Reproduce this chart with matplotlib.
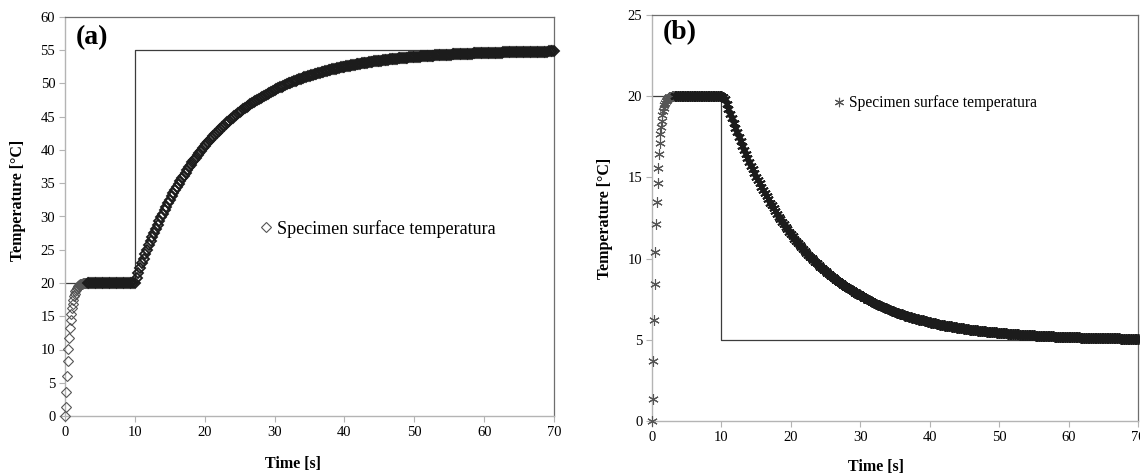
import numpy as np
import matplotlib
matplotlib.use("Agg")
import matplotlib.pyplot as plt

plt.rcParams["font.family"] = ["Liberation Serif", "DejaVu Serif"]

# ---------------------------------------------------------------------------
# Data
# ---------------------------------------------------------------------------
# Set-point of the chamber (step at t = 10 s)
setpoint_time = [0, 10, 10, 70]
setpoint_a = [20, 20, 55, 55]
setpoint_b = [20, 20, 5, 5]

# Warm-up from 0 to 20 °C, sampled every 0.1 s (0 .. 3 s)
rise_a = [0.0, 1.3, 3.6, 6.0, 8.2, 10.1, 11.8, 13.2, 14.4, 15.4, 16.2,
          16.9, 17.5, 18.0, 18.4, 18.75, 19.0, 19.25, 19.4, 19.55, 19.65,
          19.75, 19.8, 19.85, 19.9, 19.92, 19.94, 19.96, 19.97, 19.98, 19.99]
rise_b = [0.0, 1.34, 3.72, 6.19, 8.46, 10.41, 12.13, 13.5, 14.67, 15.6, 16.43,
          17.1, 17.65, 18.1, 18.5, 18.82, 19.08, 19.3, 19.46, 19.6, 19.7,
          19.78, 19.84, 19.88, 19.92, 19.94, 19.96, 19.97, 19.98, 19.99, 20.0]

# Holding at 20 °C, sampled every 0.25 s (3.25 .. 9.75 s)
hold_a = [20.0] * 27
hold_b = [20.0] * 27

# Response after the step, sampled every 0.25 s (10 .. 70 s), one row per second
step_a = [
    20.00, 20.77, 21.52, 22.25, 22.96, 23.67, 24.35, 25.02,
    25.68, 26.32, 26.95, 27.56, 28.16, 28.75, 29.32, 29.88,
    30.43, 30.97, 31.50, 32.01, 32.51, 33.01, 33.49, 33.96,
    34.42, 34.87, 35.31, 35.74, 36.16, 36.57, 36.98, 37.37,
    37.76, 38.13, 38.50, 38.86, 39.22, 39.56, 39.90, 40.23,
    40.55, 40.87, 41.18, 41.48, 41.78, 42.07, 42.35, 42.63,
    42.90, 43.16, 43.42, 43.67, 43.92, 44.17, 44.40, 44.63,
    44.86, 45.08, 45.30, 45.51, 45.72, 45.92, 46.12, 46.32,
    46.51, 46.69, 46.87, 47.05, 47.22, 47.39, 47.56, 47.72,
    47.88, 48.04, 48.19, 48.34, 48.49, 48.63, 48.77, 48.90,
    49.04, 49.17, 49.30, 49.42, 49.54, 49.66, 49.78, 49.89,
    50.01, 50.11, 50.22, 50.33, 50.43, 50.53, 50.63, 50.72,
    50.82, 50.91, 51.00, 51.08, 51.17, 51.25, 51.34, 51.42,
    51.49, 51.57, 51.65, 51.72, 51.79, 51.86, 51.93, 52.00,
    52.06, 52.13, 52.19, 52.25, 52.31, 52.37, 52.43, 52.48,
    52.54, 52.59, 52.65, 52.70, 52.75, 52.80, 52.85, 52.89,
    52.94, 52.98, 53.03, 53.07, 53.11, 53.15, 53.19, 53.23,
    53.27, 53.31, 53.35, 53.38, 53.42, 53.45, 53.49, 53.52,
    53.55, 53.58, 53.62, 53.65, 53.68, 53.70, 53.73, 53.76,
    53.79, 53.81, 53.84, 53.87, 53.89, 53.91, 53.94, 53.96,
    53.98, 54.01, 54.03, 54.05, 54.07, 54.09, 54.11, 54.13,
    54.15, 54.17, 54.19, 54.20, 54.22, 54.24, 54.25, 54.27,
    54.29, 54.30, 54.32, 54.33, 54.35, 54.36, 54.38, 54.39,
    54.40, 54.42, 54.43, 54.44, 54.45, 54.47, 54.48, 54.49,
    54.50, 54.51, 54.52, 54.53, 54.54, 54.55, 54.56, 54.57,
    54.58, 54.59, 54.60, 54.61, 54.62, 54.62, 54.63, 54.64,
    54.65, 54.66, 54.66, 54.67, 54.68, 54.69, 54.69, 54.70,
    54.71, 54.71, 54.72, 54.72, 54.73, 54.74, 54.74, 54.75,
    54.75, 54.76, 54.76, 54.77, 54.77, 54.78, 54.78, 54.79,
    54.79, 54.80, 54.80, 54.81, 54.81, 54.82, 54.82, 54.82,
    54.83,
]
step_b = [
    20.00, 19.96, 19.84, 19.55, 19.24, 18.93, 18.63, 18.34,
    18.05, 17.77, 17.50, 17.23, 16.96, 16.71, 16.46, 16.21,
    15.97, 15.73, 15.50, 15.28, 15.05, 14.84, 14.63, 14.42,
    14.22, 14.02, 13.83, 13.64, 13.45, 13.27, 13.09, 12.92,
    12.75, 12.58, 12.42, 12.26, 12.10, 11.95, 11.80, 11.65,
    11.51, 11.37, 11.23, 11.10, 10.97, 10.84, 10.71, 10.59,
    10.47, 10.35, 10.24, 10.12, 10.01, 9.91, 9.80, 9.70,
    9.60, 9.50, 9.40, 9.31, 9.21, 9.12, 9.03, 8.95,
    8.86, 8.78, 8.70, 8.62, 8.54, 8.47, 8.39, 8.32,
    8.25, 8.18, 8.11, 8.04, 7.98, 7.91, 7.85, 7.79,
    7.73, 7.67, 7.60, 7.55, 7.49, 7.43, 7.37, 7.32,
    7.27, 7.22, 7.16, 7.12, 7.07, 7.02, 6.97, 6.93,
    6.88, 6.84, 6.80, 6.76, 6.72, 6.68, 6.64, 6.60,
    6.57, 6.53, 6.49, 6.46, 6.43, 6.39, 6.36, 6.33,
    6.30, 6.27, 6.24, 6.21, 6.19, 6.16, 6.13, 6.11,
    6.08, 6.06, 6.03, 6.01, 5.99, 5.96, 5.94, 5.92,
    5.90, 5.88, 5.86, 5.84, 5.82, 5.80, 5.78, 5.76,
    5.75, 5.73, 5.71, 5.70, 5.68, 5.66, 5.65, 5.63,
    5.62, 5.61, 5.59, 5.58, 5.57, 5.55, 5.54, 5.53,
    5.52, 5.50, 5.49, 5.48, 5.47, 5.46, 5.45, 5.44,
    5.43, 5.42, 5.41, 5.40, 5.39, 5.38, 5.37, 5.36,
    5.36, 5.35, 5.34, 5.33, 5.32, 5.32, 5.31, 5.30,
    5.30, 5.29, 5.28, 5.28, 5.27, 5.26, 5.26, 5.25,
    5.25, 5.24, 5.23, 5.23, 5.22, 5.22, 5.21, 5.21,
    5.20, 5.20, 5.20, 5.19, 5.19, 5.18, 5.18, 5.17,
    5.17, 5.17, 5.16, 5.16, 5.15, 5.15, 5.15, 5.14,
    5.14, 5.14, 5.13, 5.13, 5.13, 5.13, 5.12, 5.12,
    5.12, 5.11, 5.11, 5.11, 5.11, 5.10, 5.10, 5.10,
    5.10, 5.10, 5.09, 5.09, 5.09, 5.09, 5.08, 5.08,
    5.08, 5.08, 5.08, 5.08, 5.07, 5.07, 5.07, 5.07,
    5.07,
]

x_ticks = [0, 10, 20, 30, 40, 50, 60, 70]
y_ticks_a = [0, 5, 10, 15, 20, 25, 30, 35, 40, 45, 50, 55, 60]
y_ticks_b = [0, 5, 10, 15, 20, 25]

legend_label = "Specimen surface temperatura"


def rise_times(rise):
    return np.arange(len(rise)) * 0.1


def later_times(hold, step):
    t_hold = 3.25 + np.arange(len(hold)) * 0.25
    t_step = 10.0 + np.arange(len(step)) * 0.25
    return np.concatenate([t_hold, t_step]), np.concatenate([hold, step])


# ---------------------------------------------------------------------------
# Figure
# ---------------------------------------------------------------------------
fig = plt.figure(figsize=(11.40, 4.73), dpi=100)
ax_a = fig.add_axes([65 / 1140, 1 - 416 / 473, 489 / 1140, 399 / 473])
ax_b = fig.add_axes([652 / 1140, 1 - 421 / 473, 486 / 1140, 406 / 473])

AX_GREY = "#b4b4b4"
FRAME_GREY = "#6e6e6e"


def style_axes(ax, yticks, ymax):
    ax.set_xlim(0, 70)
    ax.set_ylim(0, ymax)
    ax.set_xticks(x_ticks)
    ax.set_yticks(yticks)
    ax.tick_params(direction="out", length=4, width=0.8, color=AX_GREY,
                   labelsize=10.5, pad=3)
    for side in ("left", "bottom"):
        ax.spines[side].set_color(AX_GREY)
        ax.spines[side].set_linewidth(1.0)
    for side in ("top", "right"):
        ax.spines[side].set_color(FRAME_GREY)
        ax.spines[side].set_linewidth(0.9)
    ax.set_xlabel("Time [s]", fontsize=11.5, fontweight="bold")
    ax.set_ylabel("Temperature [°C]", fontsize=11.5, fontweight="bold")


def draw_series(ax, rise, hold, step, marker, ms):
    # sparse start: thin grey outlines; dense part: overlapping dark outlines
    first, = ax.plot(rise_times(rise), rise, ls="none", marker=marker, ms=ms,
                     mfc="none", mec="#555555", mew=0.8, clip_on=False,
                     zorder=3, label=legend_label)
    t_late, y_late = later_times(hold, step)
    ax.plot(t_late, y_late, ls="none", marker=marker, ms=ms, mfc="none",
            mec="#1c1c1c", mew=1.35, clip_on=False, zorder=3)
    return first


# ----- panel (a): heating step --------------------------------------------
ax_a.plot(setpoint_time, setpoint_a, color="#3c3c3c", lw=0.9, zorder=2)
pts_a = draw_series(ax_a, rise_a, hold_a, step_a, "D", 5.6)
style_axes(ax_a, y_ticks_a, 60)
ax_a.yaxis.set_label_coords(-0.080, 0.54)
ax_a.xaxis.set_label_coords(0.466, -0.100)
ax_a.text(0.055, 0.948, "(a)", transform=ax_a.transAxes, fontsize=20,
          fontweight="bold", ha="center", va="center")
ax_a.legend(handles=[pts_a], loc="center left", bbox_to_anchor=(0.40, 0.469),
            frameon=False, fontsize=13, handlelength=0.6, handletextpad=0.3,
            borderpad=0, borderaxespad=0, markerscale=0.9)

# ----- panel (b): cooling step --------------------------------------------
ax_b.plot(setpoint_time, setpoint_b, color="#3c3c3c", lw=0.9, zorder=2)
pts_b = draw_series(ax_b, rise_b, hold_b, step_b, (6, 2, 0), 7.5)
style_axes(ax_b, y_ticks_b, 25)
ax_b.yaxis.set_label_coords(-0.080, 0.5)
ax_b.xaxis.set_label_coords(0.461, -0.094)
ax_b.text(0.058, 0.956, "(b)", transform=ax_b.transAxes, fontsize=20,
          fontweight="bold", ha="center", va="center")
ax_b.legend(handles=[pts_b], loc="center left", bbox_to_anchor=(0.376, 0.783),
            frameon=False, fontsize=11.2, handlelength=0.6, handletextpad=0.3,
            borderpad=0, borderaxespad=0, markerscale=0.9)

fig.savefig("out.png", dpi=100)
